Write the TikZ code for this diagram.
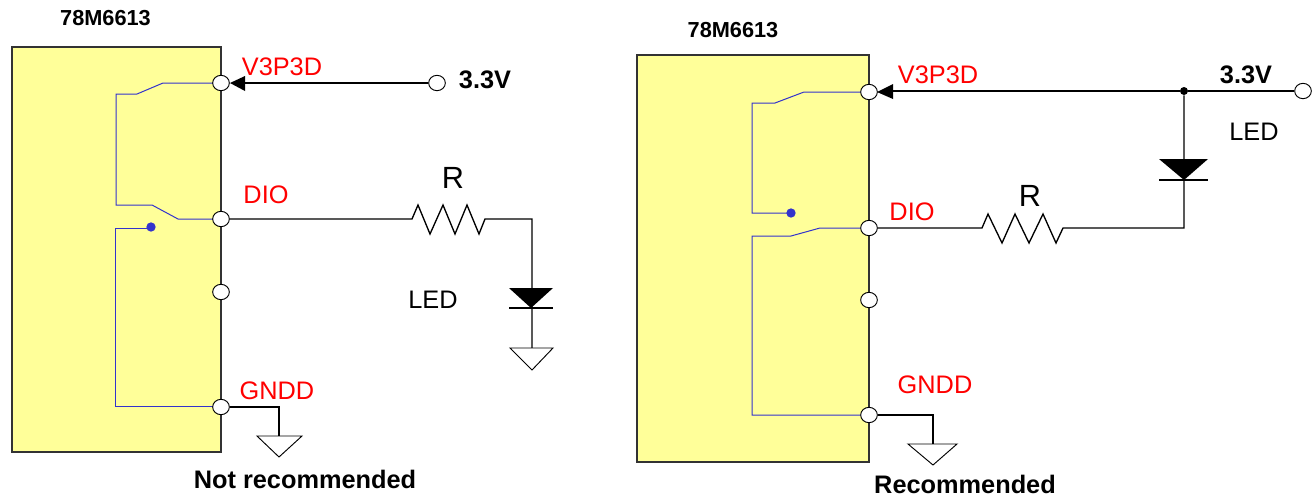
\documentclass[tikz,border=0pt]{standalone}
\usepackage{fontspec}
\setmainfont{Liberation Sans}
\definecolor{chipyellow}{RGB}{255,255,153}
\definecolor{swblue}{RGB}{51,51,204}
\tikzset{
  chip/.style={draw=black!80,fill=chipyellow,line width=0.9pt},
  pin/.style={draw=black,fill=white,ellipse,minimum width=12.5pt,minimum height=11.5pt,inner sep=0pt,line width=0.7pt},
  swline/.style={draw=swblue,line width=0.75pt},
  wire/.style={draw=black,line width=1pt},
  redlabel/.style={text=red,font=\fontsize{19}{19}\selectfont,inner sep=0pt},
  blacklabel/.style={font=\fontsize{19}{19}\selectfont,inner sep=0pt},
  bigletter/.style={font=\fontsize{23}{23}\selectfont,inner sep=0pt},
  boldlabel/.style={font=\fontsize{19}{19}\selectfont\bfseries,inner sep=0pt},
  titlelabel/.style={font=\fontsize{16.3}{16.3}\selectfont\bfseries,inner sep=0pt},
  swdot/.style={circle,fill=swblue,minimum size=7pt,inner sep=0pt},
  junction/.style={circle,fill=black,minimum size=6pt,inner sep=0pt},
  gnd/.style={draw=black,line width=0.7pt,fill=white},
}
\usetikzlibrary{shapes.geometric}
\begin{document}
\begin{tikzpicture}[x=0.75pt,y=-0.75pt]
\useasboundingbox (0,0) rectangle (1314,497);
% left circuit
\draw[chip] (12,47) rectangle (221,452);
\node[titlelabel] (left_title) at (105.5,18) {78M6613};
\draw[swline] (221,83) -- (163,83) -- (137,94) -- (116,94) -- (116,205) -- (152,205) -- (178,219) -- (221,219);
\draw[swline] (221,406) -- (115,406) -- (115,228) -- (151,228);
\node[swdot] (left_dot) at (151,227) {};
\node[pin] (left_v3p3d) at (221,83) {};
\node[pin] (left_dio) at (221,219) {};
\node[pin] (left_nc) at (221,292) {};
\node[pin] (left_gndd) at (221,407) {};
\node[pin] (left_supply) at (437,83) {};
\node[redlabel] at (282,67) {V3P3D};
\node[redlabel] at (266,195) {DIO};
\node[redlabel] at (277,391) {GNDD};
\node[boldlabel] at (485,80) {3.3V};
\node[bigletter] at (453,178) {R};
\node[blacklabel] at (433,300) {LED};
\node[boldlabel] at (305,479) {Not recommended};
\draw[wire] (left_supply) -- (245,83);
\fill[black] (230,83) -- (245,76) -- (245,91) -- cycle;
\coordinate (left_r_in) at (412,219);
\coordinate (left_r_out) at (485,219);
\coordinate (left_corner) at (532,219);
\coordinate (left_gnd_top) at (532,348);
\draw[wire] (left_dio) -- (left_r_in) -- (418,205) -- (430,234) -- (443,205) -- (455,234) -- (467,205) -- (479,234) -- (left_r_out) -- (left_corner) -- (left_gnd_top);
\fill[black] (509,288) -- (553,288) -- (531,308) -- cycle;
\draw[wire] (509,308) -- (553,308);
\draw[gnd] (510,348) -- (553,348) -- (532,370) -- cycle;
\coordinate (left_gndd_corner) at (279,407);
\draw[wire] (left_gndd) -- (left_gndd_corner) -- (279,436);
\draw[gnd] (257,436) -- (302,436) -- (279,457) -- cycle;
% right circuit
\draw[chip] (637,55) rectangle (869,462);
\node[titlelabel] (right_title) at (733,30) {78M6613};
\draw[swline] (869,92) -- (804,92) -- (775,103) -- (752,103) -- (752,213) -- (791,213);
\draw[swline] (869,228) -- (820,228) -- (791,236) -- (752,236) -- (752,415) -- (869,415);
\node[swdot] (right_dot) at (791,213) {};
\node[pin] (right_v3p3d) at (869,92) {};
\node[pin] (right_dio) at (869,228) {};
\node[pin] (right_nc) at (869,300) {};
\node[pin] (right_gndd) at (869,415) {};
\node[pin] (right_supply) at (1303,91) {};
\node[redlabel] at (938,75) {V3P3D};
\node[redlabel] at (912,212) {DIO};
\node[redlabel] at (935,385) {GNDD};
\node[boldlabel] at (1246,75) {3.3V};
\node[bigletter] at (1030,196) {R};
\node[blacklabel] at (1254,132) {LED};
\node[boldlabel] at (965,484.5) {Recommended};
\node[junction] (right_junction) at (1184,91) {};
\draw[wire] (right_supply) -- (right_junction) -- (893,91);
\fill[black] (877,92) -- (893,84) -- (893,99) -- cycle;
\coordinate (right_corner) at (1184,228);
\coordinate (right_r_out) at (1063,228);
\coordinate (right_r_in) at (982,228);
\draw[wire] (right_junction) -- (right_corner) -- (right_r_out) -- (1056,243) -- (1043,214) -- (1029,243) -- (1015,214) -- (1002,243) -- (988,214) -- (right_r_in) -- (right_dio);
\fill[black] (1159,159) -- (1208,159) -- (1184,180) -- cycle;
\draw[wire] (1159,180) -- (1208,180);
\coordinate (right_gndd_corner) at (933,415);
\draw[wire] (right_gndd) -- (right_gndd_corner) -- (933,444);
\draw[gnd] (908,444) -- (957,444) -- (933,465) -- cycle;
\end{tikzpicture}
\end{document}
